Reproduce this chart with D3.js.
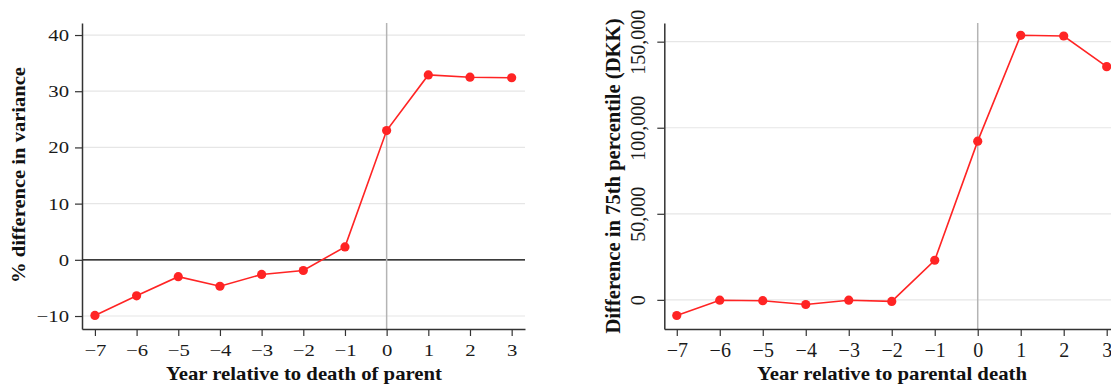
<!DOCTYPE html>
<html><head><meta charset="utf-8">
<script src="https://cdn.jsdelivr.net/npm/d3@7"></script>
<style>body{margin:0;background:#fff}svg{display:block}</style>
</head><body>
<svg id="c" width="1111" height="385"></svg>
<script>
const years = [-7,-6,-5,-4,-3,-2,-1,0,1,2,3];
const varianceDiff = [-9.9,-6.4,-3.0,-4.7,-2.6,-1.9,2.3,23.0,32.9,32.5,32.4];
const p75Diff = [-9100,-200,-500,-2700,-200,-900,23000,92200,153700,153300,135500];
const leftYTicks = [-10,0,10,20,30,40];
const rightYTicks = [0,50000,100000,150000];
const leftXTitle = "Year relative to death of parent";
const rightXTitle = "Year relative to parental death";
const leftYTitle = "% difference in variance";
const rightYTitle = "Difference in 75th percentile (DKK)";

const svg = d3.select("#c");
const FONT = "Liberation Serif, Times New Roman, serif";
const RED = "#ff2424";
const minus = s => String(s).replace("-", "\u2212");

function panel(o){
  const g = svg.append("g");
  const x = d3.scaleLinear().domain(o.xDom).range(o.xRange);
  const y = d3.scaleLinear().domain(o.yDom).range([329, 23]);
  g.selectAll(".grid").data(o.yTicks).join("line")
    .attr("x1", o.xRange[0]).attr("x2", o.xRange[1])
    .attr("y1", d=>y(d)).attr("y2", d=>y(d))
    .attr("stroke", "#e6e6e6").attr("stroke-width", 1.2);
  if (o.zeroLine) g.append("line").attr("x1", o.xRange[0]).attr("x2", o.xRange[1])
    .attr("y1", y(0)).attr("y2", y(0)).attr("stroke", "#000").attr("stroke-width", 1.2);
  g.append("line").attr("x1", x(0)).attr("x2", x(0)).attr("y1", 23).attr("y2", 329)
    .attr("stroke", "#b4b4b4").attr("stroke-width", 1.5);
  const xa = g.append("g").attr("transform", "translate(0,329)")
    .call(d3.axisBottom(x).tickValues(years).tickSizeOuter(0).tickSizeInner(7).tickPadding(o.xPad).tickFormat(minus));
  const ya = g.append("g").attr("transform", `translate(${o.xRange[0]},0)`)
    .call(d3.axisLeft(y).tickValues(o.yTicks).tickSizeOuter(0).tickSizeInner(7).tickPadding(6).tickFormat(o.yFmt));
  [xa, ya].forEach(a => {
    a.attr("font-family", FONT);
    a.select(".domain").attr("stroke", "#333").attr("stroke-width", 1.5);
    a.selectAll(".tick line").attr("stroke", "#333").attr("stroke-width", 1.2);
    a.selectAll("text").style("font-family", FONT).attr("font-size", o.fs).attr("fill", "#1a1a1a");
  });
  xa.selectAll(".tick text").attr("transform", `scale(${o.sx},1)`);
  if (o.rotYLabels) {
    ya.selectAll(".tick text").attr("text-anchor", "middle")
      .attr("transform", `translate(${o.rotLabelX},0) rotate(-90)`).attr("x", 0).attr("dy", "0.34em").attr("y", 0);
  } else {
    ya.selectAll(".tick text").attr("x", -13 / o.sx).attr("transform", `scale(${o.sx},1)`);
  }
  const pts = years.map((d,i)=>[d, o.vals[i]]);
  g.append("path").datum(pts).attr("fill","none").attr("stroke",RED).attr("stroke-width",1.6)
    .attr("d", d3.line().x(d=>x(d[0])).y(d=>y(d[1])));
  g.selectAll(".pt").data(pts).join("circle").attr("cx", d=>x(d[0])).attr("cy", d=>y(d[1]))
    .attr("r", 4.6).attr("fill", RED);
  g.append("text").attr("x", o.xTitleX).attr("y", 380).attr("text-anchor","middle")
    .style("font-family", FONT).attr("font-weight","bold").attr("font-size", 19).attr("fill","#111")
    .attr("textLength", o.xTitleLen).attr("lengthAdjust","spacingAndGlyphs").text(o.xTitle);
  g.append("text").attr("transform", `translate(${o.yTitleX},${o.yTitleY}) rotate(-90)`).attr("text-anchor","middle")
    .style("font-family", FONT).attr("font-weight","bold").attr("font-size", o.yTitleFs).attr("fill","#111")
    .attr("textLength", o.yTitleLen).attr("lengthAdjust","spacingAndGlyphs").text(o.yTitle);
}

panel({xDom:[-7.31,3.32], xRange:[82,525], yDom:[-12.31,42.14], yTicks:leftYTicks, vals:varianceDiff,
  yFmt:minus, zeroLine:true, fs:17, sx:1.22, xPad:8,
  xTitle:leftXTitle, xTitleX:304, xTitleLen:276,
  yTitle:leftYTitle, yTitleX:25, yTitleY:175, yTitleLen:216, yTitleFs:19});
panel({xDom:[-7.29,3.3], xRange:[664.3,1119.6], yDom:[-16937,160847], yTicks:rightYTicks, vals:p75Diff,
  yFmt:d3.format(","), zeroLine:false, fs:20, sx:1, xPad:7, rotYLabels:true, rotLabelX:-26,
  xTitle:rightXTitle, xTitleX:892, xTitleLen:270,
  yTitle:rightYTitle, yTitleX:620, yTitleY:176, yTitleLen:315, yTitleFs:20});
</script>
</body></html>
